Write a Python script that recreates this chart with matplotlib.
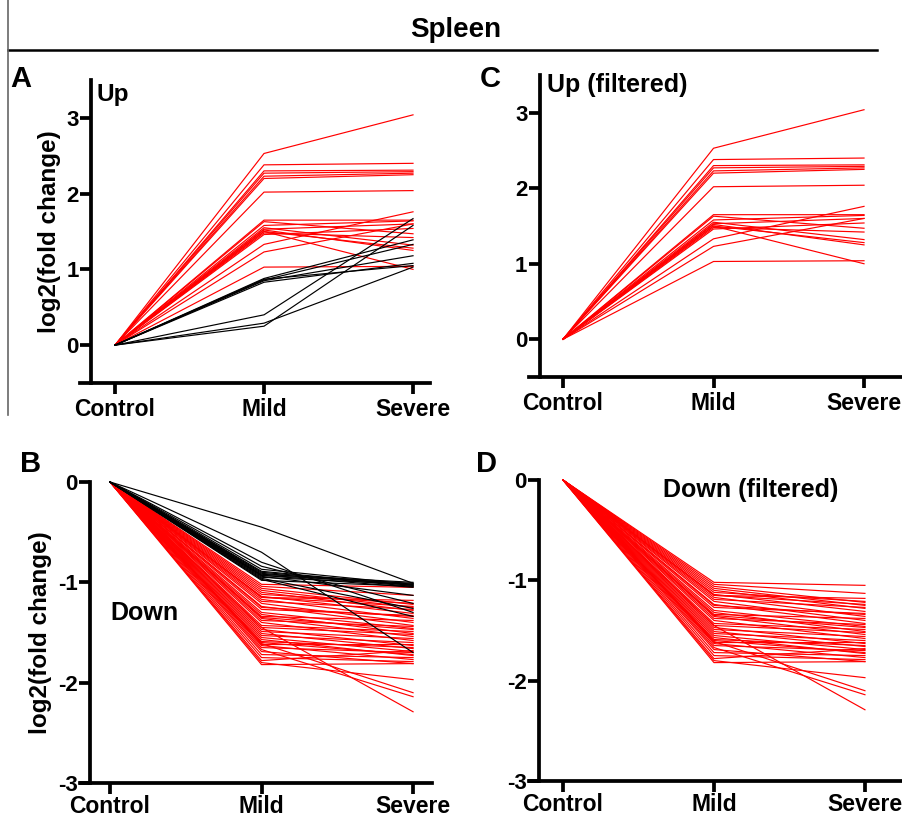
import matplotlib

matplotlib.use("Agg")
import matplotlib.pyplot as plt
from matplotlib.lines import Line2D

# ── Data ────────────────────────────────────────────────────────────────────
CONDITIONS = ["Control", "Mild", "Severe"]

# Up-regulated genes passing the filter (red in A and C)
UP_RED_MILD = [2.53, 2.38, 2.30, 2.27, 2.23, 2.20, 2.02,
               1.65, 1.63, 1.58, 1.55, 1.53, 1.52, 1.50, 1.48, 1.46, 1.33, 1.23, 1.03, 1.50]
UP_RED_SEVERE = [3.04, 2.40, 2.31, 2.29, 2.27, 2.25, 2.04,
                 1.65, 1.47, 1.64, 1.32, 1.60, 1.25, 1.00, 1.42, 1.54, 1.76, 1.60, 1.04, 1.28]

# Up-regulated genes removed by the filter (black in A)
UP_BLACK_MILD = [0.88, 0.86, 0.85, 0.83, 0.87, 0.40, 0.25, 0.29]
UP_BLACK_SEVERE = [1.39, 1.33, 1.18, 1.08, 1.05, 1.67, 1.58, 1.03]

# Down-regulated genes passing the filter (red in B and D)
DOWN_RED_MILD = [-1.02, -1.04, -1.06, -1.08, -1.10, -1.12, -1.14, -1.15, -1.17, -1.19,
                 -1.21, -1.24, -1.27, -1.30, -1.32, -1.34, -1.36, -1.38, -1.40, -1.43,
                 -1.45, -1.47, -1.49, -1.51, -1.53, -1.55, -1.57, -1.59, -1.61, -1.63,
                 -1.65, -1.67, -1.69, -1.72, -1.75, -1.78, -1.80, -1.82, -1.45, -1.60,
                 -1.62, -1.25, -1.35, -1.15]
DOWN_RED_SEVERE = [-1.05, -1.13, -1.22, -1.25, -1.28, -1.21, -1.31, -1.24, -1.36, -1.27,
                   -1.40, -1.43, -1.33, -1.46, -1.51, -1.38, -1.54, -1.44, -1.58, -1.49,
                   -2.29, -1.63, -1.56, -1.66, -1.60, -1.69, -1.73, -1.65, -2.10, -1.77,
                   -1.70, -2.14, -1.81, -1.75, -1.79, -1.68, -1.97, -1.81, -1.52, -1.72,
                   -1.62, -1.34, -1.47, -1.18]

# Down-regulated genes removed by the filter (black in B)
DOWN_BLACK_MILD = [-0.45, -0.70, -0.80, -0.84, -0.87, -0.89, -0.91, -0.92, -0.93,
                   -0.94, -0.95, -0.96, -0.97, -0.98, -0.90, -0.93]
DOWN_BLACK_SEVERE = [-1.01, -1.70, -1.30, -1.21, -1.02, -1.03, -1.04, -1.00, -1.05,
                     -1.13, -1.02, -1.26, -1.34, -1.04, -1.03, -1.01]

UP_TICKS = [0, 1, 2, 3]
DOWN_TICKS = [0, -1, -2, -3]

# ── Style ───────────────────────────────────────────────────────────────────
RED = "#FF0000"
BLACK = "#000000"
W, H = 903, 817

plt.rcParams["font.family"] = ["Liberation Sans", "DejaVu Sans"]
plt.rcParams["font.weight"] = "bold"
plt.rcParams["axes.unicode_minus"] = False


def px_box(left, top, right, bottom):
    return [left / W, 1 - bottom / H, (right - left) / W, (bottom - top) / H]


def draw_lines(ax, mild, severe, color):
    xs = range(len(CONDITIONS))
    for m, s in zip(mild, severe):
        ax.plot(xs, [0, m, s], color=color, linewidth=0.85, clip_on=False)


def style_axes(ax, xlim, ylim, spine_x, yticks, xpad=3):
    ax.set_xlim(*xlim)
    ax.set_ylim(*ylim)
    for side in ("top", "right"):
        ax.spines[side].set_visible(False)
    ax.spines["left"].set_position(("data", spine_x))
    ax.spines["left"].set_linewidth(2.7)
    ax.spines["bottom"].set_linewidth(2.7)
    ax.set_xticks(range(len(CONDITIONS)))
    ax.set_xticklabels(CONDITIONS, fontsize=16.5, fontweight="bold")
    ax.set_yticks(yticks)
    ax.set_yticklabels([str(t) for t in yticks], fontsize=16, fontweight="bold")
    ax.tick_params(axis="both", width=2.7, length=8, direction="out")
    ax.tick_params(axis="x", pad=xpad)
    ax.tick_params(axis="y", pad=1)
    ax.patch.set_alpha(0)


def main() -> None:
    fig = plt.figure(figsize=(W / 100, H / 100), dpi=100)

    ax_a = fig.add_axes(px_box(80, 80, 430, 383))
    draw_lines(ax_a, UP_RED_MILD, UP_RED_SEVERE, RED)
    draw_lines(ax_a, UP_BLACK_MILD, UP_BLACK_SEVERE, BLACK)
    style_axes(ax_a, (-0.235, 2.114), (-0.5, 3.5), -0.161, UP_TICKS)
    ax_a.set_ylabel("log2(fold change)", fontsize=17.5, fontweight="bold", labelpad=4)

    ax_c = fig.add_axes(px_box(529, 75, 903, 377))
    draw_lines(ax_c, UP_RED_MILD, UP_RED_SEVERE, RED)
    style_axes(ax_c, (-0.226, 2.259), (-0.5, 3.5), -0.153, UP_TICKS)

    ax_b = fig.add_axes(px_box(80, 482, 432, 783))
    draw_lines(ax_b, DOWN_RED_MILD, DOWN_RED_SEVERE, RED)
    draw_lines(ax_b, DOWN_BLACK_MILD, DOWN_BLACK_SEVERE, BLACK)
    style_axes(ax_b, (-0.198, 2.125), (-3, 0), -0.132, DOWN_TICKS, xpad=0.5)
    ax_b.set_ylabel("log2(fold change)", fontsize=17.5, fontweight="bold", labelpad=4)

    ax_d = fig.add_axes(px_box(529, 480, 903, 781))
    draw_lines(ax_d, DOWN_RED_MILD, DOWN_RED_SEVERE, RED)
    style_axes(ax_d, (-0.225, 2.252), (-3, 0), -0.159, DOWN_TICKS, xpad=0.5)

    def ftext(x, y, s, size, **kw):
        fig.text(x / W, 1 - y / H, s, fontsize=size, fontweight="bold", va="baseline", **kw)

    # Header
    ftext(456, 37, "Spleen", 20, ha="center")
    fig.add_artist(Line2D([8 / W, 877 / W], [1 - 50 / H] * 2, color="black", linewidth=1.8))
    fig.add_artist(Line2D([8 / W, 8 / W], [1, 1 - 415 / H], color="0.4", linewidth=1.2))

    # Panel letters
    ftext(10, 87, "A", 21)
    ftext(20, 472, "B", 21)
    ftext(480, 87, "C", 21)
    ftext(476, 472, "D", 21)

    # In-panel titles
    ftext(97, 101, "Up", 17.5)
    ftext(547, 92, "Up (filtered)", 18)
    ftext(110, 620, "Down", 18)
    ftext(663, 497, "Down (filtered)", 18)

    fig.savefig("out.png", dpi=100)
    plt.close(fig)


if __name__ == "__main__":
    main()
